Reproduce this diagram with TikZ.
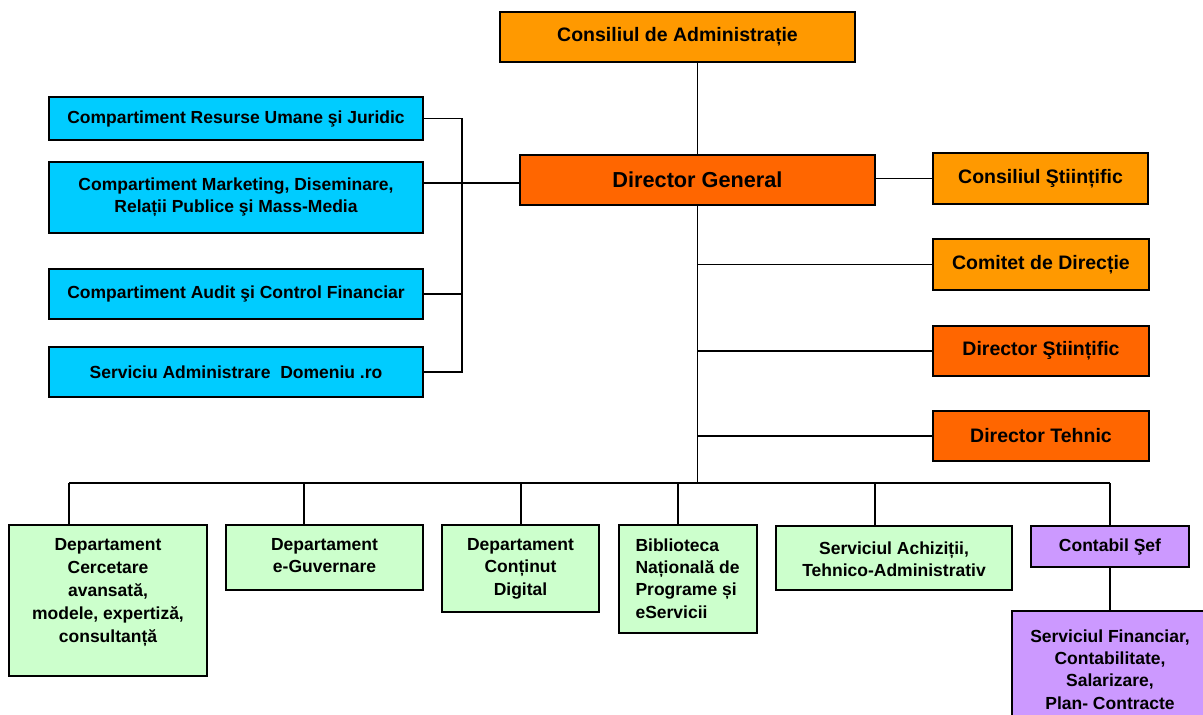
\documentclass[tikz,border=0pt]{standalone}
\usepackage{fontspec}
\setmainfont{Liberation Sans}
\definecolor{orgA}{HTML}{FF9900}
\definecolor{orgB}{HTML}{FF6600}
\definecolor{cyanbox}{HTML}{00CCFF}
\definecolor{grnbox}{HTML}{CCFFCC}
\definecolor{purbox}{HTML}{CC99FF}
\begin{document}
\begin{tikzpicture}[x=1pt,y=-1pt,
  box/.style={draw=black, line width=1.3pt, inner sep=0pt, align=center,
    font=\bfseries\fontsize{17.5}{21.7}\selectfont},
  bigtxt/.style={font=\bfseries\fontsize{19.5}{23}\selectfont},
  hugetxt/.style={font=\bfseries\fontsize{21.7}{25}\selectfont},
  toplab/.style={anchor=north, inner sep=0pt, yshift=-14pt, align=center,
    font=\bfseries\fontsize{17.5}{22.3}\selectfont},
  link/.style={draw=black, line width=1.1pt},
  obox/.style={box, bigtxt, fill=orgA},
  dbox/.style={box, bigtxt, fill=orgB},
  cbox/.style={box, fill=cyanbox, minimum width=374pt},
  gbox/.style={box, fill=grnbox},
  pbox/.style={box, fill=purbox}]
\useasboundingbox (0,0) rectangle (1203,715);
\clip (0,0) rectangle (1203,715);
\fill[white] (0,0) rectangle (1203,715);

% top
\node[obox, minimum width=355pt, minimum height=50pt] (cda) at (677.5,37) {Consiliul de Administrație};
\node[dbox, hugetxt, minimum width=355pt, minimum height=50pt] (dg) at (697.5,180) {Director General};

% right
\node[obox, minimum width=215pt, minimum height=51pt] (cs) at (1040.5,178.5) {Consiliul Ştiințific};
\node[obox, minimum width=216pt, minimum height=51pt] (cd) at (1041,264.5) {Comitet de Direcție};
\node[dbox, minimum width=216pt, minimum height=50pt] (ds) at (1041,351) {Director Ştiințific};
\node[dbox, minimum width=216pt, minimum height=50pt] (dt) at (1041,436) {Director Tehnic};

% left
\node[cbox, minimum height=43pt] (l1) at (236,118.5) {Compartiment Resurse Umane şi Juridic};
\node[cbox, minimum height=71pt] (l2) at (236,197.5) {Compartiment Marketing, Diseminare,\\Relații Publice şi Mass-Media};
\node[cbox, minimum height=50pt] (l3) at (236,294) {Compartiment Audit şi Control Financiar};
\node[cbox, minimum height=50pt] (l4) at (236,372) {Serviciu Administrare\ \ Domeniu .ro};

% bottom
\node[gbox, minimum width=198pt, minimum height=151pt,
  label={[toplab, font=\bfseries\fontsize{17.5}{23}\selectfont]north:{Departament\\Cercetare\\avansată,\\modele, expertiză,\\consultanță}}] (b1) at (108,600.5) {};
\node[gbox, minimum width=197pt, minimum height=65pt,
  label={[toplab]north:{Departament\\e-Guvernare}}] (b2) at (324.5,557.5) {};
\node[gbox, minimum width=157pt, minimum height=87pt,
  label={[toplab]north:{Departament\\Conținut\\Digital}}] (b3) at (520.5,568.5) {};
\node[gbox, minimum width=138pt, minimum height=108pt,
  label={[toplab, anchor=north west, xshift=17pt, align=left]north west:{Biblioteca\\Națională de\\Programe și\\eServicii}}] (b4) at (688,579) {};
\node[gbox, minimum width=236pt, minimum height=64pt,
  label={[toplab, yshift=-2pt]north:{Serviciul Achiziții,\\Tehnico-Administrativ}}] (b5) at (894,558) {};
\node[pbox, minimum width=158pt, minimum height=41pt] (b6) at (1110,546.5) {Contabil Şef};
\node[pbox, minimum width=196pt, minimum height=106pt,
  label={[toplab, yshift=-5pt]north:{Serviciul Financiar,\\Contabilitate,\\Salarizare,\\Plan- Contracte}}] (b7) at (1110,664) {};

% connectors
\coordinate (bk) at (462,0);
\coordinate (d1) at (69,483);
\coordinate (d2) at (304,483);
\coordinate (d3) at (521,483);
\coordinate (d4) at (678,483);
\coordinate (d5) at (875,483);
\coordinate (d6) at (1110,483);

\draw[link] (dg.north) -- (dg.north |- cda.south);
\draw[link] (cs.west) -- (cs.west -| dg.east);
\draw[link] (dg.south) -- (dg.south |- d1);
\draw[link] (cd.west) -- (cd.west -| dg.south);
\draw[link] (ds.west) -- (ds.west -| dg.south);
\draw[link] (dt.west) -- (dt.west -| dg.south);

\draw[link] (l1.east) -- (l1.east -| bk) -- (l4.east -| bk) -- (l4.east);
\draw[link] (l3.east) -- (l3.east -| bk);
\draw[link] ([yshift=-3pt]dg.west) -- ([yshift=-3pt]dg.west -| l2.east);

\draw[link] (d1) -- (d6);
\draw[link] (d1) -- (d1 |- b1.north);
\draw[link] (d2) -- (d2 |- b2.north);
\draw[link] (d3) -- (d3 |- b3.north);
\draw[link] (d4) -- (d4 |- b4.north);
\draw[link] (d5) -- (d5 |- b5.north);
\draw[link] (d6) -- (b6.north);
\draw[link] (b6.south) -- (b7.north);
\end{tikzpicture}
\end{document}
